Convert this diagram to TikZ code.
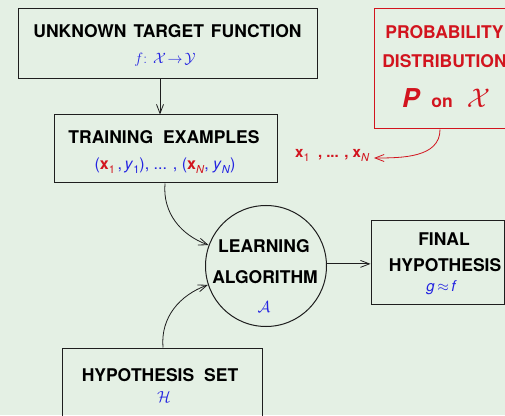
\RequirePackage{fix-cm}
\documentclass[tikz,border=0pt]{standalone}
\usepackage{fontspec}
\newfontfamily\hv{TeX Gyre Heros}
\usetikzlibrary{arrows.meta}
\definecolor{bgc}{RGB}{228,240,228}
\definecolor{tblue}{RGB}{35,35,225}
\definecolor{tred}{RGB}{210,20,30}
\definecolor{linec}{RGB}{30,30,30}
\newcommand\sbx[1]{\raisebox{-3.5pt}{\fontsize{11}{11}\selectfont #1}}
\newcommand\fs[1]{\fontsize{#1}{#1}\selectfont}
\begin{document}
\begin{tikzpicture}[x=1pt,y=1pt,
 box/.style={draw=linec, line width=1pt, inner sep=0pt},
 lab/.style={font=\hv\bfseries\fs{17.5}, inner sep=0pt, anchor=base, text=black},
 arr/.style={draw=linec, line width=0.8pt, -{Straight Barb[length=9pt,width=7pt]}}]
\fill[bgc] (0,0) rectangle (505,415);
\useasboundingbox (0,0) rectangle (505,415);
\clip (0,0) rectangle (505,415);
% boxes
\node[box, minimum width=299pt, minimum height=70pt] (utf) at (167.5,371) {};
\node[box, minimum width=223pt, minimum height=68pt] (te) at (165.5,266) {};
\node[box, draw=tred, minimum width=141pt, minimum height=120pt] (pd) at (444.5,346) {};
\node[box, circle, minimum size=121pt] (la) at (266,149) {};
\node[box, minimum width=133pt, minimum height=83pt] (fh) at (437.5,152.5) {};
\node[box, minimum width=200pt, minimum height=92pt] (hs) at (162,21) {};
% labels
\node[lab] (utfT) at (167.5,377) {UNKNOWN\hspace{7pt}TARGET\hspace{7pt}FUNCTION};
\node[lab, font=\fs{15}, text=tblue] (utfM) at (165,351) {$f$: $\mathcal{X}\!\to\!\mathcal{Y}$};
\node[lab] (teT) at (164,271) {TRAINING\hspace{10pt}EXAMPLES};
\node[lab, font=\hv\fs{16}, text=tblue] (teM) at (165,245) {(\textcolor{tred}{\textbf{x}\sbx{1}}\,,\,\textit{y}\sbx{1}), ... , (\textcolor{tred}{\textbf{x}\sbx{\textit{N}}}, \textit{y}\sbx{\textit{N}})};
\node[lab, text=tred] (pdA) at (444.5,376) {PROBABILITY};
\node[lab, text=tred] (pdB) at (444.5,347) {DISTRIBUTION};
\node[lab, text=tred] (pdC) at (446,307) {{\itshape\fs{26}P}\hspace{12pt}on\hspace{14pt}{\fs{27}$\mathcal{X}$}};
\node[lab, anchor=base west, font=\hv\bfseries\fs{15}, text=tred] (xn) at (295,257) {x\sbx{\mdseries 1}\ \ , ... , x\sbx{\mdseries\itshape N}};
\coordinate (xtip) at (374,257);
\node[lab] (laA) at (264,162) {LEARNING};
\node[lab] (laB) at (265,132) {ALGORITHM};
\node[lab, font=\fs{16}, text=tblue] (laC) at (264,103) {$\mathcal{A}$};
\node[lab] (fhA) at (444,169) {FINAL};
\node[lab] (fhB) at (445,143) {HYPOTHESIS};
\node[lab, font=\hv\itshape\fs{15}, text=tblue] (fhC) at (441,124) {g\,$\approx$\,f};
\node[lab] (hsA) at (160,34) {HYPOTHESIS\hspace{10pt}SET};
\node[lab, font=\fs{16}, text=tblue] (hsB) at (164,13) {$\mathcal{H}$};
% connectors
\coordinate (vx) at (160,0);
\draw[arr] (utf.south -| vx) -- (te.north -| vx);
\coordinate (px) at (440,0);
\draw[arr, draw=tred] (pd.south -| px) to[out=-90,in=0] (xtip);
\coordinate (tx) at (165,0);
\draw[arr] (te.south -| tx) to[out=-95,in=160] (la.160);
\coordinate (hx) at (163,0);
\draw[arr] (hs.north -| hx) to[out=95,in=200] (la.198);
\draw[arr] (la.2) -- (la.2 -| fh.west);
\end{tikzpicture}
\end{document}
